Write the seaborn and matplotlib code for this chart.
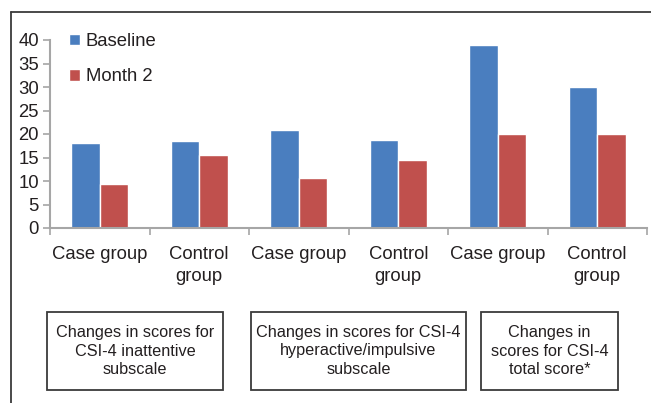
import matplotlib
matplotlib.use("Agg")
import matplotlib.pyplot as plt
import pandas as pd
import seaborn as sns
from matplotlib.lines import Line2D
from matplotlib.patches import Rectangle

# data
groups = ["inatt_case", "inatt_ctrl", "hyper_case", "hyper_ctrl", "total_case", "total_ctrl"]
tick_labels = ["Case group", "Control\ngroup", "Case group", "Control\ngroup", "Case group", "Control\ngroup"]
baseline = [18, 18.5, 20.8, 18.7, 39, 30]
month2 = [9.4, 15.5, 10.6, 14.5, 20, 20]
box_texts = ["Changes in scores for\nCSI-4 inattentive\nsubscale",
             "Changes in scores for CSI-4\nhyperactive/impulsive\nsubscale",
             "Changes in\nscores for CSI-4\ntotal score*"]

df = pd.DataFrame({"group": groups * 2,
                   "score": baseline + month2,
                   "time": ["Baseline"] * 6 + ["Month 2"] * 6})

sns.set_style("white")
plt.rcParams['font.family'] = ['Liberation Sans', 'DejaVu Sans']
txt = "#231f20"
grey = "#a6a6a6"

W, H = 651, 403
fig = plt.figure(figsize=(6.51, 4.03), dpi=100)
ax = fig.add_axes([50 / W, 1 - 228 / H, 597 / W, 188 / H])

sns.barplot(data=df, x="group", y="score", hue="time", order=groups,
            palette=["#4a7ebf", "#c0504d"], width=0.57, gap=0, saturation=1,
            ax=ax)

ax.set_ylim(0, 40)
ax.set_xlim(-0.5, 5.5)
ax.set_yticks(range(0, 41, 5))
ax.set_xticks(range(6))
ax.set_xticklabels(tick_labels, linespacing=1.35)
ax.set_xticks([i - 0.5 for i in range(7)], minor=True)
ax.tick_params(axis="x", which="major", length=0, pad=13, labelsize=13.3, labelcolor=txt)
ax.tick_params(axis="x", which="minor", length=5, width=1.2, color=grey, direction="out", bottom=True)
ax.tick_params(axis="y", length=5, width=1.2, color=grey, pad=3, labelsize=13.3, labelcolor=txt, left=True)
ax.set_xlabel("")
ax.set_ylabel("")
for s in ["top", "right"]:
    ax.spines[s].set_visible(False)
for s in ["left", "bottom"]:
    ax.spines[s].set_color(grey)
    ax.spines[s].set_linewidth(1.5)

handles, labels = ax.get_legend_handles_labels()
ax.legend(handles, labels, loc="upper left", bbox_to_anchor=(69 / W, 1 - 33 / H),
          bbox_transform=fig.transFigure, frameon=False, fontsize=13.3,
          handlelength=0.62, handleheight=0.62, handletextpad=0.3,
          labelspacing=1.0, borderpad=0, borderaxespad=0, labelcolor=txt)

# outer frame (left and top edges only)
fig.add_artist(Line2D([11 / W, 11 / W], [0, 1 - 12 / H], transform=fig.transFigure, color="#3a3a3a", lw=1.3))
fig.add_artist(Line2D([11 / W, 1], [1 - 12 / H, 1 - 12 / H], transform=fig.transFigure, color="#3a3a3a", lw=1.3))

# subscale boxes under the axis
boxes = [(47, 223), (251, 466), (481, 618)]
y0, y1 = 312, 390
for (x0, x1), t in zip(boxes, box_texts):
    fig.add_artist(Rectangle((x0 / W, 1 - y1 / H), (x1 - x0) / W, (y1 - y0) / H,
                             transform=fig.transFigure, fill=False, edgecolor="#3a3a3a", lw=1.3))
    fig.text((x0 + x1) / 2 / W, 1 - (y0 + y1) / 2 / H, t, ha="center", va="center",
             fontsize=11.7, color=txt, linespacing=1.3)

fig.savefig("out.png", dpi=100)
